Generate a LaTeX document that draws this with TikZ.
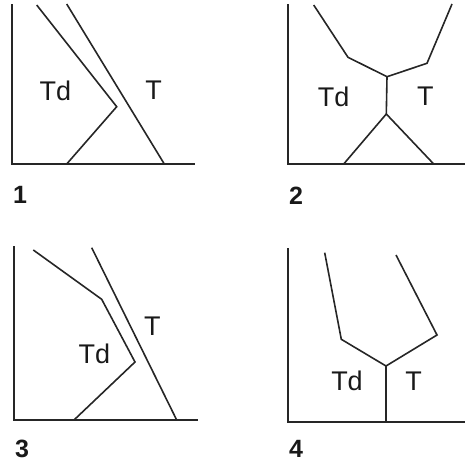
\documentclass[tikz,border=0pt]{standalone}
\usepackage{fontspec}
\setmainfont{Liberation Sans}
\begin{document}
\begin{tikzpicture}[x=1pt,y=-1pt,
  ln/.style={line width=1.6pt,line join=miter,black!85},
  ax/.style={line width=1.9pt,black!85},
  lbl/.style={inner sep=0pt,font=\fontsize{27}{27}\selectfont,text=black!90},
  num/.style={inner sep=0pt,font=\bfseries\fontsize{25}{25}\selectfont,text=black!90}]
\useasboundingbox (0,0) rectangle (465,463);
% panel 1
\coordinate (a1t) at (11.7,4);
\coordinate (a1o) at (11.7,164);
\coordinate (a1r) at (195,164);
\draw[ax] (a1t) -- (a1o) -- (a1r);
\coordinate (p1a) at (36.7,5);
\coordinate (p1b) at (116.7,106.7);
\coordinate (p1c) at (66.7,164);
\coordinate (p1d) at (66.7,4);
\coordinate (p1e) at (164.3,164);
\draw[ln] (p1a) -- (p1b) -- (p1c);
\draw[ln] (p1d) -- (p1e);
\node[lbl] (td1) at (55.5,90.5) {Td};
\node[lbl] (t1) at (153.5,90.5) {T};
\node[num] (n1) at (20,195.3) {1};
% panel 2
\coordinate (a2t) at (288,4);
\coordinate (a2o) at (288,164);
\coordinate (a2r) at (465,164);
\draw[ax] (a2t) -- (a2o) -- (a2r);
\coordinate (p2a) at (313.7,5);
\coordinate (p2b) at (348,57.3);
\coordinate (p2j) at (387,76.7);
\coordinate (p2c) at (452,4);
\coordinate (p2d) at (427,63.3);
\coordinate (p2k) at (386.3,114);
\coordinate (p2e) at (343.7,164);
\coordinate (p2f) at (433.7,164);
\draw[ln] (p2a) -- (p2b) -- (p2j) -- (p2d) -- (p2c);
\draw[ln] (p2j) -- (p2k);
\draw[ln] (p2e) -- (p2k) -- (p2f);
\node[lbl] (td2) at (333.7,96.7) {Td};
\node[lbl] (t2) at (425.3,96.7) {T};
\node[num] (n2) at (296,195.3) {2};
% panel 3
\coordinate (a3t) at (14,246);
\coordinate (a3o) at (14,420);
\coordinate (a3r) at (198,420);
\draw[ax] (a3t) -- (a3o) -- (a3r);
\coordinate (p3a) at (33.3,250);
\coordinate (p3b) at (101.7,299.3);
\coordinate (p3c) at (135,362);
\coordinate (p3d) at (74,420);
\coordinate (p3e) at (91.7,247.7);
\coordinate (p3f) at (176.7,420);
\draw[ln] (p3a) -- (p3b) -- (p3c) -- (p3d);
\draw[ln] (p3e) -- (p3f);
\node[lbl] (td3) at (94.3,354.3) {Td};
\node[lbl] (t3) at (152.3,326.7) {T};
\node[num] (n3) at (22,448.7) {3};
% panel 4
\coordinate (a4t) at (287.7,248.3);
\coordinate (a4o) at (287.7,421.7);
\coordinate (a4r) at (465,421.7);
\draw[ax] (a4t) -- (a4o) -- (a4r);
\coordinate (p4a) at (324.7,252.7);
\coordinate (p4b) at (341.3,339.3);
\coordinate (p4j) at (386,366);
\coordinate (p4c) at (396,255);
\coordinate (p4d) at (437,335);
\coordinate (p4k) at (386,421.7);
\draw[ln] (p4a) -- (p4b) -- (p4j) -- (p4d) -- (p4c);
\draw[ln] (p4j) -- (p4k);
\node[lbl] (td4) at (347,381) {Td};
\node[lbl] (t4) at (413.7,381) {T};
\node[num] (n4) at (296,449) {4};
\end{tikzpicture}
\end{document}
